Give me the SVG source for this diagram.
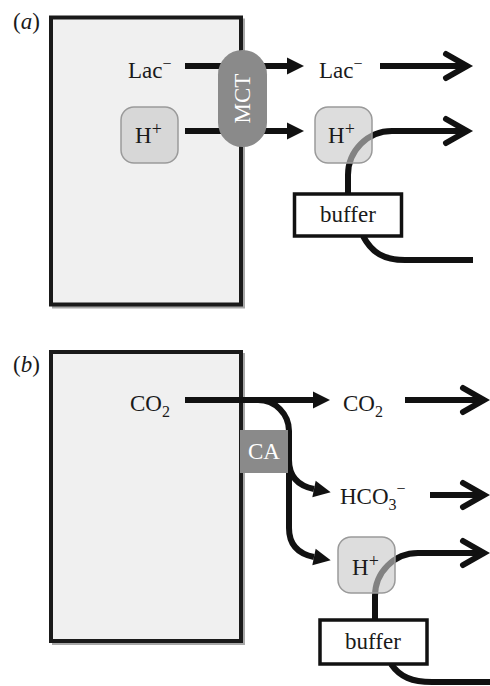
<svg xmlns="http://www.w3.org/2000/svg" width="490" height="686" viewBox="0 0 490 686">
<style>
.t{font-family:"Liberation Serif","Times New Roman",serif;font-size:23px;fill:#1a1a1a}
.w{fill:#fff}
.cell{fill:#f0f0f0;stroke:#1a1a1a;stroke-width:4}
.shadow{fill:none;stroke:#a8a8a8;stroke-width:3}
.ln{fill:none;stroke:#111;stroke-width:6}
.hbox{fill:#c8c8c8;fill-opacity:0.62;stroke:#9a9a9a;stroke-width:1.5}
.buf{fill:#fff;stroke:#111;stroke-width:3.5}
.prot{fill:#8a8a8a}
</style>
<defs>
<marker id="tri" markerUnits="userSpaceOnUse" markerWidth="20" markerHeight="20" viewBox="0 -10 20 20" refX="0" refY="0" orient="auto" overflow="visible">
<path d="M0,-8.5 L17,0 L0,8.5 z" fill="#111"/>
</marker>
<marker id="chev" markerUnits="userSpaceOnUse" markerWidth="40" markerHeight="40" viewBox="-30 -20 40 40" refX="0" refY="0" orient="auto" overflow="visible">
<path d="M-21,-12 L0,0 L-21,12" fill="none" stroke="#111" stroke-width="6" stroke-linecap="round"/>
</marker>
</defs>

<g id="panel-a-label"><text class="t" x="13" y="29">(<tspan font-style="italic">a</tspan>)</text></g>
<g id="cell-a">
<rect class="shadow" x="53.5" y="20" width="190" height="287"/>
<rect class="cell" x="51" y="17.5" width="190" height="287"/>
</g>

<g id="panel-b-label"><text class="t" x="13" y="372">(<tspan font-style="italic">b</tspan>)</text></g>
<g id="cell-b">
<rect class="shadow" x="53.5" y="354.5" width="190" height="289"/>
<rect class="cell" x="51" y="352" width="190" height="289"/>
</g>

<g id="connectors">
<path class="ln" d="M185,66 L222,66"/>
<path class="ln" d="M185,131 L222,131"/>
<path class="ln" d="M262,66 L287,66" marker-end="url(#tri)"/>
<path class="ln" d="M262,131 L287,131" marker-end="url(#tri)"/>
<path class="ln" d="M380,66 L467,66" marker-end="url(#chev)"/>
<path class="ln" d="M348,193 L348,175 A44,44 0 0 1 392,131 L467,131" marker-end="url(#chev)"/>
<path class="ln" d="M363,236 C372,253 384,260 405,260 L473,260"/>
<path class="ln" d="M185,400 L313,400" marker-end="url(#tri)"/>
<path class="ln" d="M258,400 A31,31 0 0 1 289,431 L289,528 C289,546 299,554 314,557" marker-end="url(#tri)"/>
<path class="ln" d="M289,460 C289,478 299,486 314,489" marker-end="url(#tri)"/>
<path class="ln" d="M405,400 L484,400" marker-end="url(#chev)"/>
<path class="ln" d="M430,495 L484,495" marker-end="url(#chev)"/>
<path class="ln" d="M375,620 L375,596 A43,43 0 0 1 418,553 L484,553" marker-end="url(#chev)"/>
<path class="ln" d="M391,664 C400,677 412,682 432,682 L492,682"/>
</g>

<g id="lac-in"><text class="t" x="128" y="78">Lac<tspan font-size="16" dy="-9">−</tspan></text></g>
<g id="h-in">
<rect class="hbox" x="121" y="107" width="57" height="56" rx="13"/>
<text class="t" x="135" y="143">H<tspan font-size="18" dy="-8">+</tspan></text>
</g>
<g id="mct">
<rect class="prot" x="218" y="50" width="49" height="97" rx="24.5"/>
<text class="t w" font-size="21" text-anchor="middle" transform="translate(250,98.5) rotate(-90)">MCT</text>
</g>
<g id="lac-out"><text class="t" x="319" y="78">Lac<tspan font-size="16" dy="-9">−</tspan></text></g>
<g id="h-out-a">
<rect class="hbox" x="315" y="107" width="57" height="56" rx="13"/>
<text class="t" x="328" y="143">H<tspan font-size="18" dy="-8">+</tspan></text>
</g>
<g id="buffer-a">
<rect class="buf" x="294.5" y="194" width="107" height="42"/>
<text class="t" x="348" y="222" text-anchor="middle">buffer</text>
</g>

<g id="co2-in"><text class="t" x="130" y="411">CO<tspan font-size="16" dy="6">2</tspan></text></g>
<g id="ca">
<rect class="prot" x="240" y="430" width="48" height="43"/>
<text class="t w" x="264" y="459" text-anchor="middle">CA</text>
</g>
<g id="co2-out"><text class="t" x="343" y="411">CO<tspan font-size="16" dy="6">2</tspan></text></g>
<g id="hco3-out"><text class="t" x="340" y="504">HCO<tspan font-size="16" dy="6">3</tspan><tspan font-size="16" dy="-16">−</tspan></text></g>
<g id="h-out-b">
<rect class="hbox" x="338" y="537" width="57" height="56" rx="13"/>
<text class="t" x="352" y="575">H<tspan font-size="18" dy="-8">+</tspan></text>
</g>
<g id="buffer-b">
<rect class="buf" x="320" y="620" width="107" height="44"/>
<text class="t" x="373" y="649" text-anchor="middle">buffer</text>
</g>
</svg>
